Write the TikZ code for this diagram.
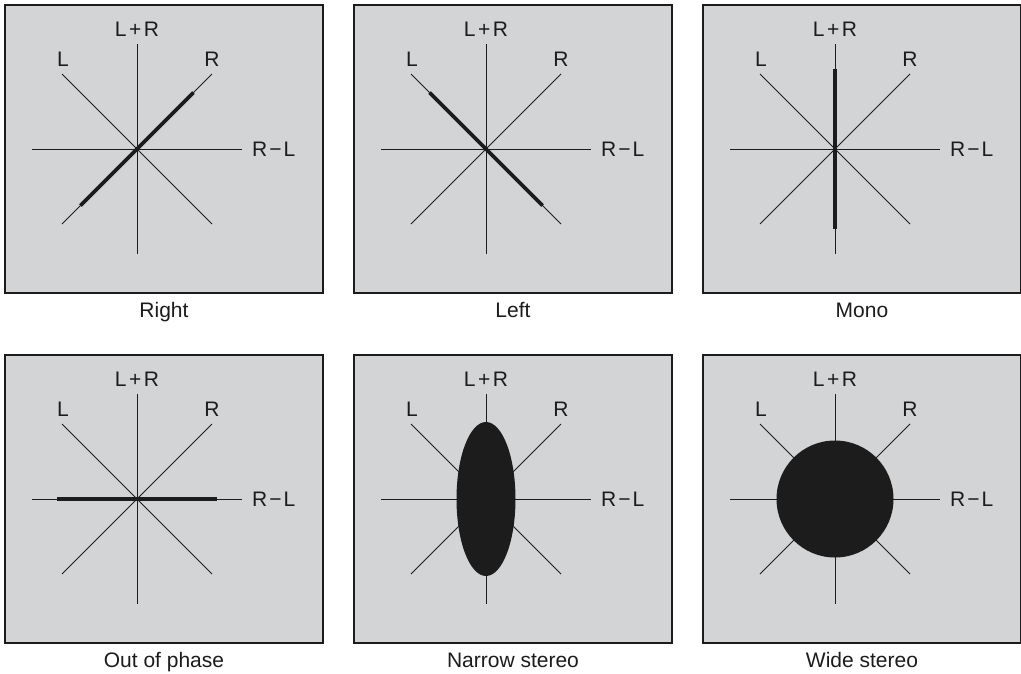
\documentclass[tikz,border=0pt]{standalone}
\usepackage{fontspec}
\setmainfont{Liberation Sans}
\definecolor{panelbg}{RGB}{211,212,214}
\definecolor{ink}{RGB}{28,28,28}
\newcommand\vspanel[4]{% name, cx, cy, caption
  \begin{scope}[shift={(#2,#3)}]
    \draw[boxst] (-132,-144) rectangle (186,144);
    \coordinate (#1c) at (0,0);
    \coordinate (#1n) at (0,-105);
    \coordinate (#1s) at (0,105);
    \coordinate (#1w) at (-105,0);
    \coordinate (#1e) at (105,0);
    \coordinate (#1nw) at (-75,-75);
    \coordinate (#1se) at (75,75);
    \coordinate (#1ne) at (75,-75);
    \coordinate (#1sw) at (-75,75);
    \draw[spoke] (#1n) -- (#1s);
    \draw[spoke] (#1w) -- (#1e);
    \draw[spoke] (#1nw) -- (#1se);
    \draw[spoke] (#1ne) -- (#1sw);
    \node[lbl, anchor=base] (#1lpr) at (0,-112.5) {L\hspace{2.5pt}+\hspace{2.5pt}R};
    \node[lbl, anchor=base] (#1l) at (-74,-83) {L};
    \node[lbl, anchor=base] (#1r) at (75,-83) {R};
    \node[lbl, anchor=base west] (#1rml) at (115,7.5) {R\hspace{2pt}−\hspace{2pt}L};
    \node[lbl, anchor=base] (#1cap) at (27,168.5) {#4};
  \end{scope}}
\begin{document}
\begin{tikzpicture}[x=1pt,y=-1pt,
  boxst/.style={draw=ink, line width=1.4pt, fill=panelbg},
  spoke/.style={draw=ink, line width=1pt},
  heavy/.style={draw=ink, line width=3.8pt},
  blob/.style={fill=ink, draw=none},
  lbl/.style={text=ink, inner sep=0pt, font=\fontsize{21}{24}\selectfont}]
\useasboundingbox (0,0) rectangle (1021,673);
\fill[white] (0,0) rectangle (1021,673);

\vspanel{a}{137}{149}{Right}
\vspanel{b}{486}{149}{Left}
\vspanel{c}{835}{149}{Mono}
\vspanel{d}{137}{499}{Out of phase}
\vspanel{e}{486}{499}{Narrow stereo}
\vspanel{f}{835}{499}{Wide stereo}

% Right
\begin{scope}[shift={(137,149)}]
  \coordinate (ah1) at (-56.5,56.5);
  \coordinate (ah2) at (56.5,-56.5);
  \draw[heavy] (ah1) -- (ah2);
\end{scope}
% Left
\begin{scope}[shift={(486,149)}]
  \coordinate (bh1) at (-56.5,-56.5);
  \coordinate (bh2) at (56.5,56.5);
  \draw[heavy] (bh1) -- (bh2);
\end{scope}
% Mono
\begin{scope}[shift={(835,149)}]
  \coordinate (ch1) at (0,-80);
  \coordinate (ch2) at (0,80);
  \draw[heavy] (ch1) -- (ch2);
\end{scope}
% Out of phase
\begin{scope}[shift={(137,499)}]
  \coordinate (dh1) at (-80,0);
  \coordinate (dh2) at (80,0);
  \draw[heavy] (dh1) -- (dh2);
\end{scope}
% Narrow stereo
\fill[blob] (ec) ellipse [x radius=29.5, y radius=77];
% Wide stereo
\fill[blob] (fc) circle [radius=58.5];
\end{tikzpicture}
\end{document}
